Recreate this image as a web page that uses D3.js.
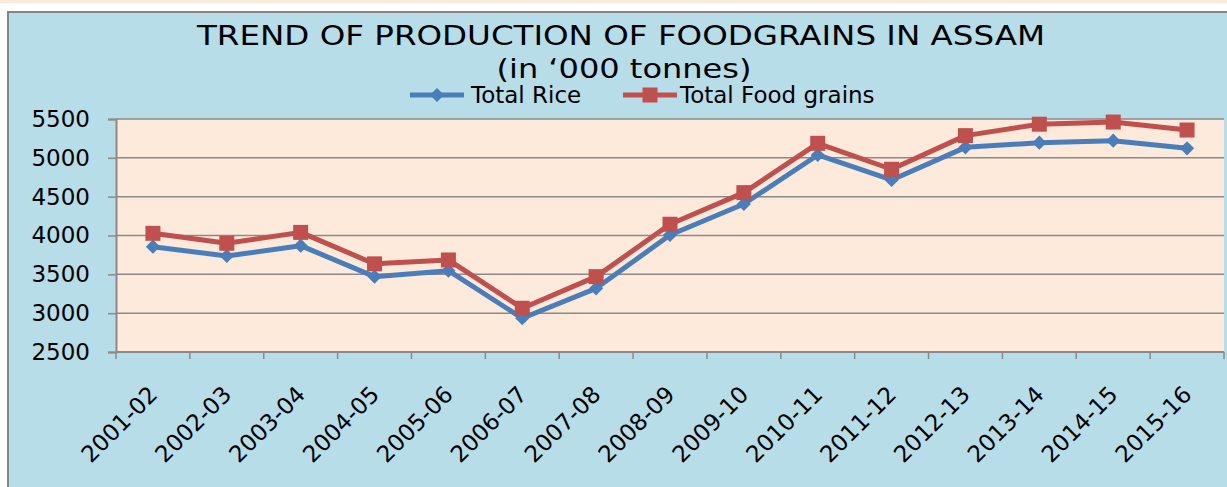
<!DOCTYPE html>
<html>
<head>
<meta charset="utf-8">
<script src="https://cdnjs.cloudflare.com/ajax/libs/d3/7.8.5/d3.min.js"></script>
<style>
  body { margin: 0; background: #fff; }
  text { font-family: "DejaVu Sans", Verdana, sans-serif; fill: #000; }
</style>
</head>
<body>
<script>
var width = 1227, height = 487;

// data ('000 tonnes)
var years = ["2001-02","2002-03","2003-04","2004-05","2005-06","2006-07","2007-08",
             "2008-09","2009-10","2010-11","2011-12","2012-13","2013-14","2014-15","2015-16"];
var rice = [3856, 3736, 3869, 3470, 3547, 2934, 3320, 4006, 4406, 5037, 4715, 5135, 5195, 5221, 5122];
var foodGrains = [4028, 3900, 4040, 3635, 3685, 3063, 3470, 4145, 4552, 5187, 4853, 5286, 5433, 5461, 5358];
var yTicks = [2500, 3000, 3500, 4000, 4500, 5000, 5500];

var series = [
  {name: "Total Rice", values: rice, color: "#4a7ebb", marker: "diamond"},
  {name: "Total Food grains", values: foodGrains, color: "#c0504d", marker: "square"}
];

var plot = {left: 116, top: 119, right: 1224, bottom: 352};
var labelSize = "23px";

var svg = d3.select("body").append("svg")
    .attr("width", width)
    .attr("height", height);

// page strip above the chart
svg.append("rect").attr("x", 0).attr("y", 0).attr("width", width).attr("height", 3).attr("fill", "#fde9d9");

// chart area
svg.append("rect")
    .attr("x", 8).attr("y", 12).attr("width", width).attr("height", height)
    .attr("fill", "#b7dde8").attr("stroke", "#858585").attr("stroke-width", 2);

var x = d3.scaleBand().domain(years).range([plot.left, plot.right]);
var y = d3.scaleLinear().domain([2500, 5500]).range([plot.bottom, plot.top]);

svg.append("rect")
    .attr("x", plot.left).attr("y", plot.top)
    .attr("width", plot.right - plot.left).attr("height", plot.bottom - plot.top)
    .attr("fill", "#fdeada");

// gridlines
svg.append("g").selectAll("line")
    .data(yTicks)
  .enter().append("line")
    .attr("x1", plot.left).attr("x2", plot.right)
    .attr("y1", d => y(d)).attr("y2", d => y(d))
    .attr("stroke", "#8a8a8a").attr("stroke-width", 1.5);

// y axis
var yAxis = svg.append("g")
    .attr("transform", "translate(" + plot.left + ",0)")
    .call(d3.axisLeft(y).tickValues(yTicks).tickFormat(d3.format("d")).tickSize(8).tickPadding(18));
yAxis.select(".domain").attr("stroke", "#8a8a8a").attr("stroke-width", 2);
yAxis.selectAll(".tick line").attr("stroke", "#8a8a8a").attr("stroke-width", 1.5);
yAxis.selectAll("text")
    .style("font-size", labelSize)
    .style("font-family", "DejaVu Sans, Verdana, sans-serif")
    .attr("fill", "#000");

// x axis: ticks between categories
var xAxisG = svg.append("g");
xAxisG.append("line")
    .attr("x1", plot.left).attr("x2", plot.right)
    .attr("y1", plot.bottom).attr("y2", plot.bottom)
    .attr("stroke", "#8a8a8a").attr("stroke-width", 2);
xAxisG.selectAll(".xtick")
    .data(years.concat(["end"]))
  .enter().append("line")
    .attr("x1", (d, i) => i < years.length ? x(d) : plot.right)
    .attr("x2", (d, i) => i < years.length ? x(d) : plot.right)
    .attr("y1", plot.bottom).attr("y2", plot.bottom + 7)
    .attr("stroke", "#8a8a8a").attr("stroke-width", 1.5);
xAxisG.selectAll(".xlabel")
    .data(years)
  .enter().append("text")
    .attr("text-anchor", "end")
    .style("font-size", labelSize)
    .attr("transform", d => "translate(" + (x(d) + x.bandwidth() / 2 + 6) + "," + (plot.bottom + 44) + ") rotate(-45)")
    .text(d => d);

// lines
var line = d3.line()
    .x((d, i) => x(years[i]) + x.bandwidth() / 2)
    .y(d => y(d));

series.forEach(function(s) {
  svg.append("path")
      .datum(s.values)
      .attr("fill", "none")
      .attr("stroke", s.color)
      .attr("stroke-width", 5)
      .attr("stroke-linejoin", "round")
      .attr("d", line);
  svg.append("g").selectAll("path")
      .data(s.values)
    .enter().append("path")
      .attr("transform", (d, i) => "translate(" + (x(years[i]) + x.bandwidth() / 2) + "," + y(d) + ")" + (s.marker == "diamond" ? " rotate(45)" : ""))
      .attr("d", s.marker == "diamond" ? "M-5,-5H5V5H-5Z" : "M-7.5,-7.5H7.5V7.5H-7.5Z")
      .attr("fill", s.color);
});

// title
svg.append("text")
    .attr("x", 621).attr("y", 45)
    .attr("text-anchor", "middle")
    .attr("textLength", 848)
    .attr("lengthAdjust", "spacingAndGlyphs")
    .style("font-size", "27px")
    .text("TREND OF PRODUCTION OF FOODGRAINS IN ASSAM");
svg.append("text")
    .attr("x", 624).attr("y", 78)
    .attr("text-anchor", "middle")
    .attr("textLength", 255)
    .attr("lengthAdjust", "spacingAndGlyphs")
    .style("font-size", "27px")
    .text("(in \u2018000 tonnes)");

// legend
var legendItems = [{x: 410, textX: 471}, {x: 623, textX: 680}];
series.forEach(function(s, i) {
  var g = svg.append("g");
  var lx = legendItems[i].x;
  g.append("line")
      .attr("x1", lx).attr("x2", lx + 54)
      .attr("y1", 95).attr("y2", 95)
      .attr("stroke", s.color).attr("stroke-width", 5);
  g.append("path")
      .attr("transform", "translate(" + (lx + 27) + ",95)" + (s.marker == "diamond" ? " rotate(45)" : ""))
      .attr("d", s.marker == "diamond" ? "M-5,-5H5V5H-5Z" : "M-7.5,-7.5H7.5V7.5H-7.5Z")
      .attr("fill", s.color);
  g.append("text")
      .attr("x", legendItems[i].textX).attr("y", 103)
      .style("font-size", labelSize)
      .text(s.name);
});
</script>
</body>
</html>
